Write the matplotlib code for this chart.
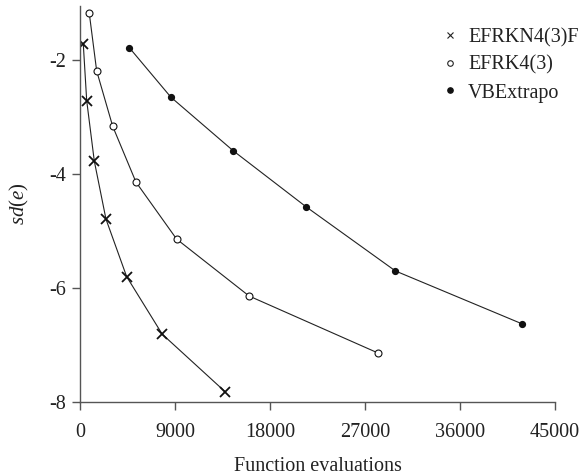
import matplotlib
matplotlib.use("Agg")
import matplotlib.pyplot as plt
from matplotlib.lines import Line2D

plt.rcParams['font.family'] = ['Liberation Serif', 'DejaVu Serif']
plt.rcParams['mathtext.fontset'] = 'custom'
plt.rcParams['mathtext.rm'] = 'Liberation Serif'
plt.rcParams['mathtext.it'] = 'Liberation Serif:italic'

# Data
efrkn_x = [312, 634, 1353, 2460, 4420, 7790, 13750]
efrkn_y = [-1.72, -2.71, -3.77, -4.79, -5.80, -6.81, -7.82]
efrk_x = [880, 1580, 3095, 5300, 9150, 16020, 28230]
efrk_y = [-1.18, -2.19, -3.16, -4.14, -5.14, -6.14, -7.14]
vbe_x = [4665, 8610, 14510, 21390, 29880, 41900]
vbe_y = [-1.78, -2.65, -3.59, -4.57, -5.70, -6.63]
labels = ["EFRKN4(3)F", "EFRK4(3)", "VBExtrapo"]
xticks = [0, 9000, 18000, 27000, 36000, 45000]
yticks = [-8, -6, -4, -2]

fig = plt.figure(figsize=(5.83, 4.76), dpi=100)
ax = fig.add_axes([80/583, 74/476, 475/583, 396/476])

lc = '#222222'
ax.plot(efrkn_x, efrkn_y, color=lc, lw=0.8, marker='x', ms=7, mew=1.3, mec='#111111')
ax.plot(efrk_x, efrk_y, color=lc, lw=0.8, marker='o', ms=5, mfc='white', mec='#111111', mew=0.8)
ax.plot(vbe_x, vbe_y, color=lc, lw=0.8, marker='o', ms=4.2, mfc='#111111', mec='#111111')

ax.set_xlim(0, 45000)
ax.set_ylim(-8, -1.05)
ax.set_xticks(xticks)
ax.set_xticklabels([str(t) for t in xticks])
ax.set_yticks(yticks)
ax.set_yticklabels([str(t) for t in yticks])

for s in ['top', 'right']:
    ax.spines[s].set_visible(False)
for s in ['left', 'bottom']:
    ax.spines[s].set_color('#555555')
    ax.spines[s].set_linewidth(1.0)
ax.tick_params(direction='out', length=6, width=1.0, color='#555555',
               labelsize=14.5, labelcolor='#222222')
ax.tick_params(axis='x', pad=9)
ax.tick_params(axis='y', pad=4)

ax.set_xlabel("Function evaluations", fontsize=14.5, color='#222222', labelpad=11)
ax.set_ylabel(r"$sd(e)$", fontsize=15, color='#222222', labelpad=13)

handles = [
    Line2D([], [], ls='none', marker='x', ms=4.5, mew=0.8, color='#222222'),
    Line2D([], [], ls='none', marker='o', ms=4, mfc='white', mec='#222222', mew=0.8),
    Line2D([], [], ls='none', marker='o', ms=3.8, mfc='#111111', mec='#111111'),
]
leg = fig.legend(handles, labels, loc='upper left', bbox_to_anchor=(440/583, 1 - 28/476),
                 frameon=False, fontsize=14.5, handlelength=1.0, handletextpad=0.4,
                 labelspacing=0.42, borderaxespad=0, borderpad=0)
for t in leg.get_texts():
    t.set_color('#222222')

fig.savefig("out.png", dpi=100)
